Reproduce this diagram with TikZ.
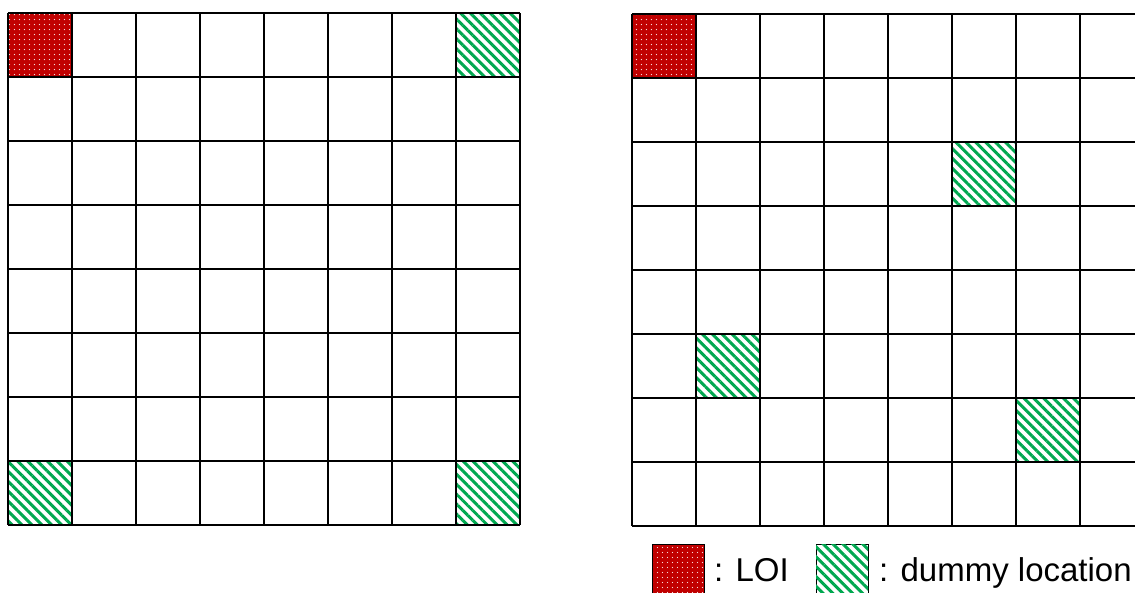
\documentclass[tikz,border=0pt]{standalone}
\usepackage{fontspec}
\setmainfont{Liberation Sans}
\usetikzlibrary{patterns.meta}
\definecolor{loired}{RGB}{192,0,0}
\definecolor{dgreen}{RGB}{0,168,80}
\tikzset{
  gridline/.style={draw=black, line width=1.3pt},
  loi/.style={preaction={fill=loired}, pattern={Dots[distance=5.4pt, radius=0.75pt]}, pattern color=white!85!loired},
  dummy/.style={fill=white, postaction={pattern={Lines[angle=-45, distance=7pt, line width=3pt]}, pattern color=dgreen}},
  legtext/.style={anchor=base west, inner sep=0pt, font=\fontsize{33}{36}\selectfont}
}
\begin{document}
\begin{tikzpicture}[x=1pt, y=-1pt]
\useasboundingbox (0,0) rectangle (1135,592);
\clip (0,0) rectangle (1135,592);
% left grid
\begin{scope}[shift={(8,13)}]
  \fill[loi] (0,0) rectangle (64,64);
  \fill[dummy] (448,0) rectangle (512,64);
  \fill[dummy] (0,448) rectangle (64,512);
  \fill[dummy] (448,448) rectangle (512,512);
  \foreach \i in {0,...,8} {
    \draw[gridline] (\i*64,0) -- (\i*64,512);
    \draw[gridline] (0,\i*64) -- (512,\i*64);
  }
\end{scope}
% right grid
\begin{scope}[shift={(632,14)}]
  \fill[loi] (0,0) rectangle (64,64);
  \fill[dummy] (320,128) rectangle (384,192);
  \fill[dummy] (64,320) rectangle (128,384);
  \fill[dummy] (384,384) rectangle (448,448);
  \foreach \i in {0,...,8} {
    \draw[gridline] (\i*64,0) -- (\i*64,512);
    \draw[gridline] (0,\i*64) -- (512,\i*64);
  }
\end{scope}
% legend
\filldraw[loi, draw=black, line width=1pt] (652,544) rectangle (704,597);
\node[legtext] (loitext) at (714,581) {: LOI};
\filldraw[dummy, draw=black, line width=1pt] (816,544) rectangle (868,597);
\node[legtext] (dummytext) at (879,581) {: dummy location};
\end{tikzpicture}
\end{document}
